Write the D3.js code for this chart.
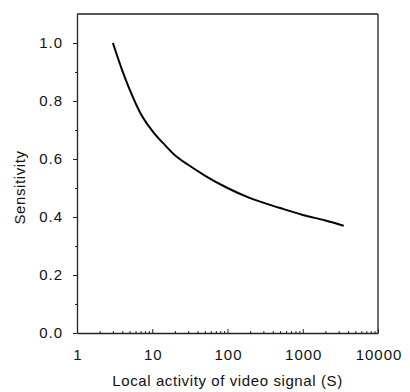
<!DOCTYPE html>
<html>
<head>
<meta charset="utf-8">
<script src="https://cdn.jsdelivr.net/npm/d3@7"></script>
<style>
  html, body { margin: 0; padding: 0; background: #fff; }
  svg { display: block; }
  text { font-family: "Liberation Sans", Arial, Helvetica, sans-serif; fill: #111; }
</style>
</head>
<body>
<svg id="chart" width="410" height="392"></svg>
<script>
// Data
const activity = [3, 4, 5, 7, 10, 15, 20, 30, 50, 100, 200, 500, 1000, 2000, 3500];
const sensitivity = [1.0, 0.905, 0.84, 0.757, 0.697, 0.646, 0.613, 0.580, 0.543, 0.500, 0.465, 0.431, 0.407, 0.388, 0.370];
const xTickValues = [1, 10, 100, 1000, 10000];
const xTickLabels = ["1", "10", "100", "1000", "10000"];
const yTickValues = [0.0, 0.2, 0.4, 0.6, 0.8, 1.0];
const yTickLabels = ["0.0", "0.2", "0.4", "0.6", "0.8", "1.0"];
const xTitle = "Local activity of video signal (S)";
const yTitle = "Sensitivity";

const W = 410, H = 392;
const m = { left: 77, right: 32, top: 14, bottom: 59 };
const svg = d3.select("#chart");
const x = d3.scaleLog().domain([1, 10000]).range([m.left, W - m.right]);
const y = d3.scaleLinear().domain([0, 1.1]).range([H - m.bottom, m.top]);

const axisColor = "#222";
const fontFam = '"Liberation Sans", Arial, sans-serif';

// Frame: top and right borders
svg.append("line").attr("x1", m.left).attr("x2", W - m.right).attr("y1", m.top).attr("y2", m.top)
  .attr("stroke", axisColor).attr("stroke-width", 1.3);
svg.append("line").attr("x1", W - m.right).attr("x2", W - m.right).attr("y1", m.top).attr("y2", H - m.bottom)
  .attr("stroke", axisColor).attr("stroke-width", 1.3);

// X minor ticks (inside)
const minorX = [];
for (let d = 1; d < 10000; d *= 10) for (let k = 2; k <= 9; k++) minorX.push(d * k);
const gx = svg.append("g").attr("transform", `translate(0,${H - m.bottom})`);
gx.call(d3.axisBottom(x).tickValues(minorX).tickSize(-2).tickFormat(""))
  .call(g => g.select(".domain").remove());
gx.selectAll(".tick line").attr("stroke", axisColor);
// X major ticks + labels
const gx2 = svg.append("g").attr("transform", `translate(0,${H - m.bottom})`);
gx2.call(d3.axisBottom(x).tickValues(xTickValues).tickSizeInner(-4).tickSizeOuter(0)
  .tickPadding(16).tickFormat((d, i) => xTickLabels[i]));
gx2.select(".domain").attr("stroke", axisColor).attr("stroke-width", 1.3);
gx2.selectAll(".tick line").attr("stroke", axisColor);
gx2.selectAll(".tick text").attr("font-size", 15).attr("fill", "#111")
  .attr("letter-spacing", 1).attr("dx", 0.5)
  .style("font-family", fontFam);

// Y minor ticks (outside)
const minorY = [0.1, 0.3, 0.5, 0.7, 0.9];
const gy0 = svg.append("g").attr("transform", `translate(${m.left},0)`);
gy0.call(d3.axisLeft(y).tickValues(minorY).tickSize(2).tickFormat(""))
  .call(g => g.select(".domain").remove());
gy0.selectAll(".tick line").attr("stroke", axisColor);
// Y major ticks + labels
const gy = svg.append("g").attr("transform", `translate(${m.left},0)`);
gy.call(d3.axisLeft(y).tickValues(yTickValues).tickSizeInner(4).tickSizeOuter(0)
  .tickPadding(10).tickFormat((d, i) => yTickLabels[i]));
gy.select(".domain").attr("stroke", axisColor).attr("stroke-width", 1.3);
gy.selectAll(".tick line").attr("stroke", axisColor);
gy.selectAll(".tick text").attr("font-size", 15).attr("fill", "#111")
  .attr("letter-spacing", 1)
  .style("font-family", fontFam);

// Curve
const pts = activity.map((a, i) => [a, sensitivity[i]]);
svg.append("path").datum(pts)
  .attr("fill", "none").attr("stroke", "#000").attr("stroke-width", 2)
  .attr("d", d3.line().x(d => x(d[0])).y(d => y(d[1])).curve(d3.curveMonotoneX));

// Titles
svg.append("text").attr("x", (m.left + W - m.right) / 2).attr("y", 386)
  .attr("text-anchor", "middle").attr("font-size", 15).attr("letter-spacing", 0.6).text(xTitle);
svg.append("text").attr("transform", `translate(25,${(m.top + H - m.bottom) / 2 + 14}) rotate(-90)`)
  .attr("text-anchor", "middle").attr("font-size", 15).attr("letter-spacing", 0.6).text(yTitle);
</script>
</body>
</html>
